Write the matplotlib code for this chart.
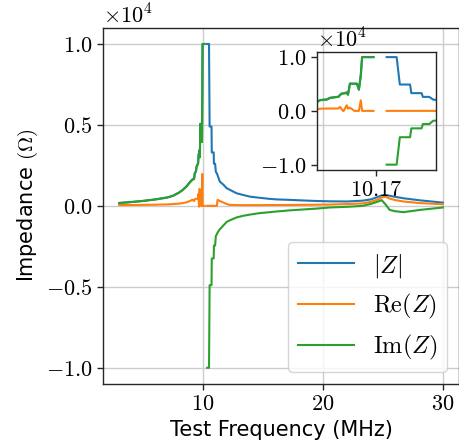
import numpy as np
import matplotlib
matplotlib.use("Agg")
import matplotlib.pyplot as plt
from matplotlib.ticker import FuncFormatter

plt.rcParams['mathtext.fontset'] = 'cm'
plt.rcParams['font.family'] = ['DejaVu Sans']

# Test frequency (MHz)
freq = [3.0, 4.0, 5.0, 6.0, 7.0, 7.5, 8.0, 8.3, 8.6, 8.9, 9.1,
        9.25, 9.29, 9.40, 9.45, 9.58, 9.605, 9.63, 9.66, 9.71, 9.73, 9.76,
        9.83, 9.87, 9.90, 9.93, 9.95, 10.128, 10.23,
        10.334, 10.49, 10.54, 10.70, 10.72, 10.88, 10.90, 11.00, 11.06,
        11.15, 11.20, 11.39, 11.7, 11.95, 12.2, 12.78, 13.3, 13.9, 14.7,
        15.56, 16.1, 17.2, 17.8, 19.45, 20.56, 22.0, 23.3, 24.0, 24.6,
        24.9, 25.2, 25.56, 26.0, 26.7, 28.1, 30.0]

# |Z| (Ohm)
z_abs = [180, 240, 310, 400, 520, 630, 830, 990, 1200, 1480, 1630,
         1700, 2010, 2150, 2440, 2640, 3000, 3210, 3250, 3460, 3030, 5080,
         5050, 5050, 3950, 6800, 10000, 10000, np.nan,
         10000, 10000, 4900, 4900, 3300, 3300, 2600, 2600, 2100,
         2000, 1900, 1500, 1300, 1100, 1000, 780, 680, 570, 500,
         430, 400, 370, 350, 300, 280, 270, 320, 400, 560,
         650, 680, 620, 560, 470, 340, 200]

# Re(Z) (Ohm)
z_re = [50, 50, 60, 70, 90, 110, 140, 170, 220, 300, 380,
        300, 400, 440, 440, 450, 740, 300, -50, 1050, 400, 600,
        0, 0, 0, 1970, 0, 0, np.nan,
        0, 0, 0, 0, 0, 0, 0, 0, 0,
        0, 370, 300, 200, 120, 60, 50, 45, 45, 45,
        50, 50, 55, 60, 70, 80, 110, 150, 250, 400,
        520, 570, 450, 360, 270, 170, 100]

# Im(Z) (Ohm)
z_im = [170, 230, 300, 390, 510, 620, 820, 980, 1180, 1450, 1600,
        1660, 1970, 2100, 2400, 2600, 2900, 3200, 3250, 3300, 3000, 5050,
        5050, 5050, 3950, 6500, 10000, 10000, np.nan,
        -10000, -10000, -4900, -4900, -3250, -3250, -2450, -2450, -1850,
        -1750, -1650, -1450, -1200, -1000, -900, -720, -620, -540, -450,
        -390, -350, -280, -250, -170, -100, -60, 0, 120, 270,
        350, 100, -250, -330, -390, -250, -100]

labels = [r'$|Z|$', r'$\mathrm{Re}(Z)$', r'$\mathrm{Im}(Z)$']
colors = ['#1f77b4', '#ff7f0e', '#2ca02c']
series = [z_abs, z_re, z_im]

x_ticks = [10, 20, 30]
y_ticks = [-1e4, -5e3, 0, 5e3, 1e4]
inset_x_ticks = [10.17]
inset_y_ticks = [-1e4, 0, 1e4]
inset_xlim = (9.25, 11.105)

fig = plt.figure(figsize=(4.6, 4.48), dpi=100)
ax = fig.add_axes([0.224, 0.143, 0.774, 0.795])

for vals, lab, c in zip(series, labels, colors):
    ax.plot(freq, vals, color=c, lw=1.5, label=lab)

fmt = FuncFormatter(lambda v, p: r'$%.1f$' % (v / 1e4))
tickfs = 16

def style(a):
    a.yaxis.set_major_formatter(fmt)
    a.xaxis.set_major_formatter(FuncFormatter(lambda v, p: r'$%g$' % v))
    for s in a.spines.values():
        s.set_color('#262626')
        s.set_linewidth(1.0)
    a.tick_params(labelsize=tickfs, color='#262626', width=1.0, length=4)
    a.text(0, 1.0, r'$\times10^{4}$', transform=a.transAxes, ha='left',
           va='bottom', fontsize=tickfs)

ax.set_xticks(x_ticks)
ax.set_yticks(y_ticks)
ax.set_ylim(-1.1e4, 1.1e4)
style(ax)
ax.grid(True, color='#cccccc', lw=1.0)
ax.set_axisbelow(True)
ax.set_xlabel('Test Frequency (MHz)', fontsize=15)
ax.set_ylabel(r'Impedance $(\Omega)$', fontsize=15)

ax.legend(loc='lower right', fontsize=17.5, handlelength=2.3)

axin = fig.add_axes([0.6898, 0.6205, 0.258, 0.264])
for vals, c in zip(series, colors):
    axin.plot(freq, vals, color=c, lw=1.5)
axin.set_xlim(*inset_xlim)
axin.set_ylim(-1.1e4, 1.1e4)
axin.set_xticks(inset_x_ticks)
axin.set_yticks(inset_y_ticks)
axin.xaxis.set_major_formatter(FuncFormatter(lambda v, p: r'$%.2f$' % v))
axin.patch.set_alpha(0)
style(axin)
axin.xaxis.set_major_formatter(FuncFormatter(lambda v, p: r'$%.2f$' % v))

fig.savefig('out.png', dpi=100)
